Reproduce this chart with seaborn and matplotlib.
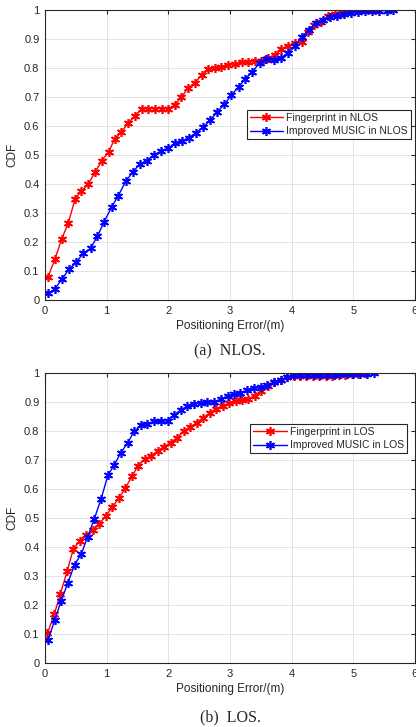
import numpy as np
import pandas as pd
import matplotlib
matplotlib.use("Agg")
import matplotlib.pyplot as plt
import seaborn as sns
from matplotlib.ticker import FuncFormatter

# ---------------- data ----------------
nlos_fp_x = [0.05,0.16,0.27,0.38,0.49,0.59,0.70,0.81,0.92,1.03,1.13,1.24,1.35,1.46,1.57,1.67,1.78,1.89,2.00,2.11,
             2.21,2.32,2.43,2.54,2.65,2.75,2.86,2.97,3.08,3.19,3.29,3.40,3.51,3.62,3.73,3.83,3.94,4.05,4.16,4.27,
             4.37,4.48,4.59,4.70,4.81,4.91,5.02,5.13,5.24,5.35]
nlos_fp_y = [0.08,0.14,0.21,0.267,0.35,0.375,0.40,0.44,0.48,0.51,0.555,0.58,0.61,0.635,0.66,0.66,0.66,0.66,0.66,0.673,
             0.70,0.73,0.75,0.775,0.795,0.80,0.805,0.81,0.815,0.82,0.82,0.825,0.825,0.835,0.845,0.865,0.877,0.887,0.89,0.925,
             0.95,0.96,0.98,0.985,0.99,0.995,1.0,1.0,1.0,1.0]
nlos_mu_x = [0.05,0.16,0.28,0.39,0.51,0.62,0.74,0.85,0.96,1.08,1.19,1.31,1.42,1.54,1.65,1.76,1.88,1.99,2.11,2.22,
             2.34,2.45,2.56,2.68,2.79,2.91,3.02,3.14,3.25,3.36,3.48,3.59,3.71,3.82,3.94,4.05,4.16,4.28,4.39,4.51,
             4.62,4.74,4.85,4.96,5.08,5.19,5.31,5.42,5.54,5.65]
nlos_mu_y = [0.023,0.038,0.074,0.106,0.131,0.161,0.178,0.22,0.27,0.32,0.36,0.41,0.44,0.47,0.48,0.50,0.513,0.523,0.54,0.548,
             0.56,0.577,0.595,0.62,0.648,0.675,0.706,0.735,0.763,0.787,0.817,0.832,0.829,0.833,0.853,0.875,0.907,0.93,0.955,0.965,
             0.976,0.98,0.985,0.99,0.994,0.995,0.997,0.997,0.998,1.0]
los_fp_x = [0.04,0.15,0.25,0.36,0.46,0.57,0.67,0.78,0.88,0.99,1.09,1.20,1.30,1.41,1.51,1.62,1.72,1.83,1.93,2.04,
            2.14,2.25,2.35,2.46,2.56,2.67,2.77,2.88,2.98,3.09,3.19,3.30,3.40,3.51,3.61,3.72,3.82,3.93,4.03,4.14,
            4.24,4.35,4.45,4.56,4.66,4.77,4.87,4.98,5.08,5.19]
los_fp_y = [0.103,0.168,0.239,0.317,0.394,0.422,0.441,0.459,0.48,0.508,0.537,0.569,0.602,0.644,0.68,0.705,0.714,0.732,0.746,0.76,
            0.776,0.801,0.814,0.828,0.845,0.862,0.876,0.887,0.895,0.904,0.908,0.91,0.922,0.939,0.954,0.968,0.977,0.986,0.989,0.99,
            0.99,0.99,0.99,0.99,0.991,0.992,0.993,0.995,0.997,1.0]
los_mu_x = [0.05,0.16,0.26,0.37,0.48,0.59,0.69,0.80,0.91,1.02,1.12,1.23,1.34,1.45,1.56,1.66,1.77,1.88,1.99,2.09,
            2.20,2.31,2.42,2.53,2.63,2.74,2.85,2.96,3.06,3.17,3.28,3.39,3.50,3.60,3.71,3.82,3.93,4.03,4.14,4.25,
            4.36,4.46,4.57,4.68,4.79,4.90,5.00,5.11,5.22,5.33]
los_mu_y = [0.08,0.149,0.213,0.276,0.339,0.377,0.434,0.497,0.566,0.647,0.682,0.725,0.759,0.80,0.82,0.825,0.833,0.833,0.836,0.856,
            0.871,0.886,0.894,0.897,0.90,0.90,0.909,0.92,0.927,0.932,0.94,0.949,0.951,0.958,0.968,0.977,0.985,0.994,0.994,0.994,
            0.994,0.994,0.994,0.994,0.995,0.995,0.996,0.997,0.998,1.0]

labels_nlos = ["Fingerprint in NLOS", "Improved MUSIC in NLOS"]
labels_los = ["Fingerprint in LOS", "Improved MUSIC in LOS"]
xticks = [0, 1, 2, 3, 4, 5, 6]
yticks = [0, 0.1, 0.2, 0.3, 0.4, 0.5, 0.6, 0.7, 0.8, 0.9, 1.0]
captions = ["(a)  NLOS.", "(b)  LOS."]
xlabel = "Positioning Error/(m)"
ylabel = "CDF"

# ---------------- style ----------------
sns.set_theme(style="white")
plt.rcParams["font.family"] = ["Liberation Sans", "DejaVu Sans"]

W, H = 416, 727
fig = plt.figure(figsize=(W / 100, H / 100), dpi=100)

def axrect(left, top, right, bottom):
    return [left / W, 1 - bottom / H, (right - left) / W, (bottom - top) / H]

ax1 = fig.add_axes(axrect(45, 10, 415, 300))
ax2 = fig.add_axes(axrect(45, 373, 415, 663))

colors = ["#ff0000", "#0000ff"]
asterisk = (6, 2, 0)

def draw(ax, xs, ys, labels, legend_anchor):
    frames = []
    for x, y, lab in zip(xs, ys, labels):
        frames.append(pd.DataFrame({"x": x, "y": y, "series": lab}))
    df = pd.concat(frames, ignore_index=True)
    sns.lineplot(data=df, x="x", y="y", hue="series", palette=dict(zip(labels, colors)),
                 estimator=None, sort=False, marker=asterisk, markersize=6.5, linewidth=1.0,
                 markeredgewidth=1.2, ax=ax, legend=False)
    lines = ax.get_lines()[:2]
    for ln, c, lab in zip(lines, colors, labels):
        ln.set_markeredgecolor(c)
        ln.set_markerfacecolor(c)
        ln.set_label(lab)
    ax.set_xlim(0, 6)
    ax.set_ylim(0, 1)
    ax.set_xticks(xticks)
    ax.set_yticks(yticks)
    ax.yaxis.set_major_formatter(FuncFormatter(lambda v, p: f"{v:g}"))
    ax.grid(True, color="#e3e3e3", linewidth=0.7)
    ax.set_axisbelow(True)
    for s in ax.spines.values():
        s.set_color("#262626")
        s.set_linewidth(0.8)
    ax.tick_params(direction="in", length=3, width=0.8, colors="#262626",
                   labelsize=8, top=True, right=True, pad=4, labelcolor="#262626")
    ax.set_xlabel(xlabel, fontsize=8.5, color="#262626", labelpad=3)
    ax.set_ylabel(ylabel, fontsize=8.5, color="#262626", labelpad=4)
    leg = ax.legend(handles=lines, labels=labels, loc="upper right",
                    bbox_to_anchor=legend_anchor, fontsize=7.5,
                    frameon=True, fancybox=False, edgecolor="#262626", framealpha=1,
                    borderpad=0.3, handlelength=3.2, labelspacing=0.3, handletextpad=0.3,
                    borderaxespad=0)
    leg.get_frame().set_linewidth(0.8)

draw(ax1, [nlos_fp_x, nlos_mu_x], [nlos_fp_y, nlos_mu_y], labels_nlos,
     ((411 - 45) / 370, (300 - 110) / 290))
draw(ax2, [los_fp_x, los_mu_x], [los_fp_y, los_mu_y], labels_los,
     ((407 - 45) / 370, (663 - 424) / 290))

fig.text(230 / W, 1 - 351 / H, captions[0], ha="center", va="center",
         fontsize=11.5, family=["Liberation Serif"])
fig.text(230 / W, 1 - 717 / H, captions[1], ha="center", va="center",
         fontsize=11.5, family=["Liberation Serif"])

fig.savefig("out.png", dpi=100)
